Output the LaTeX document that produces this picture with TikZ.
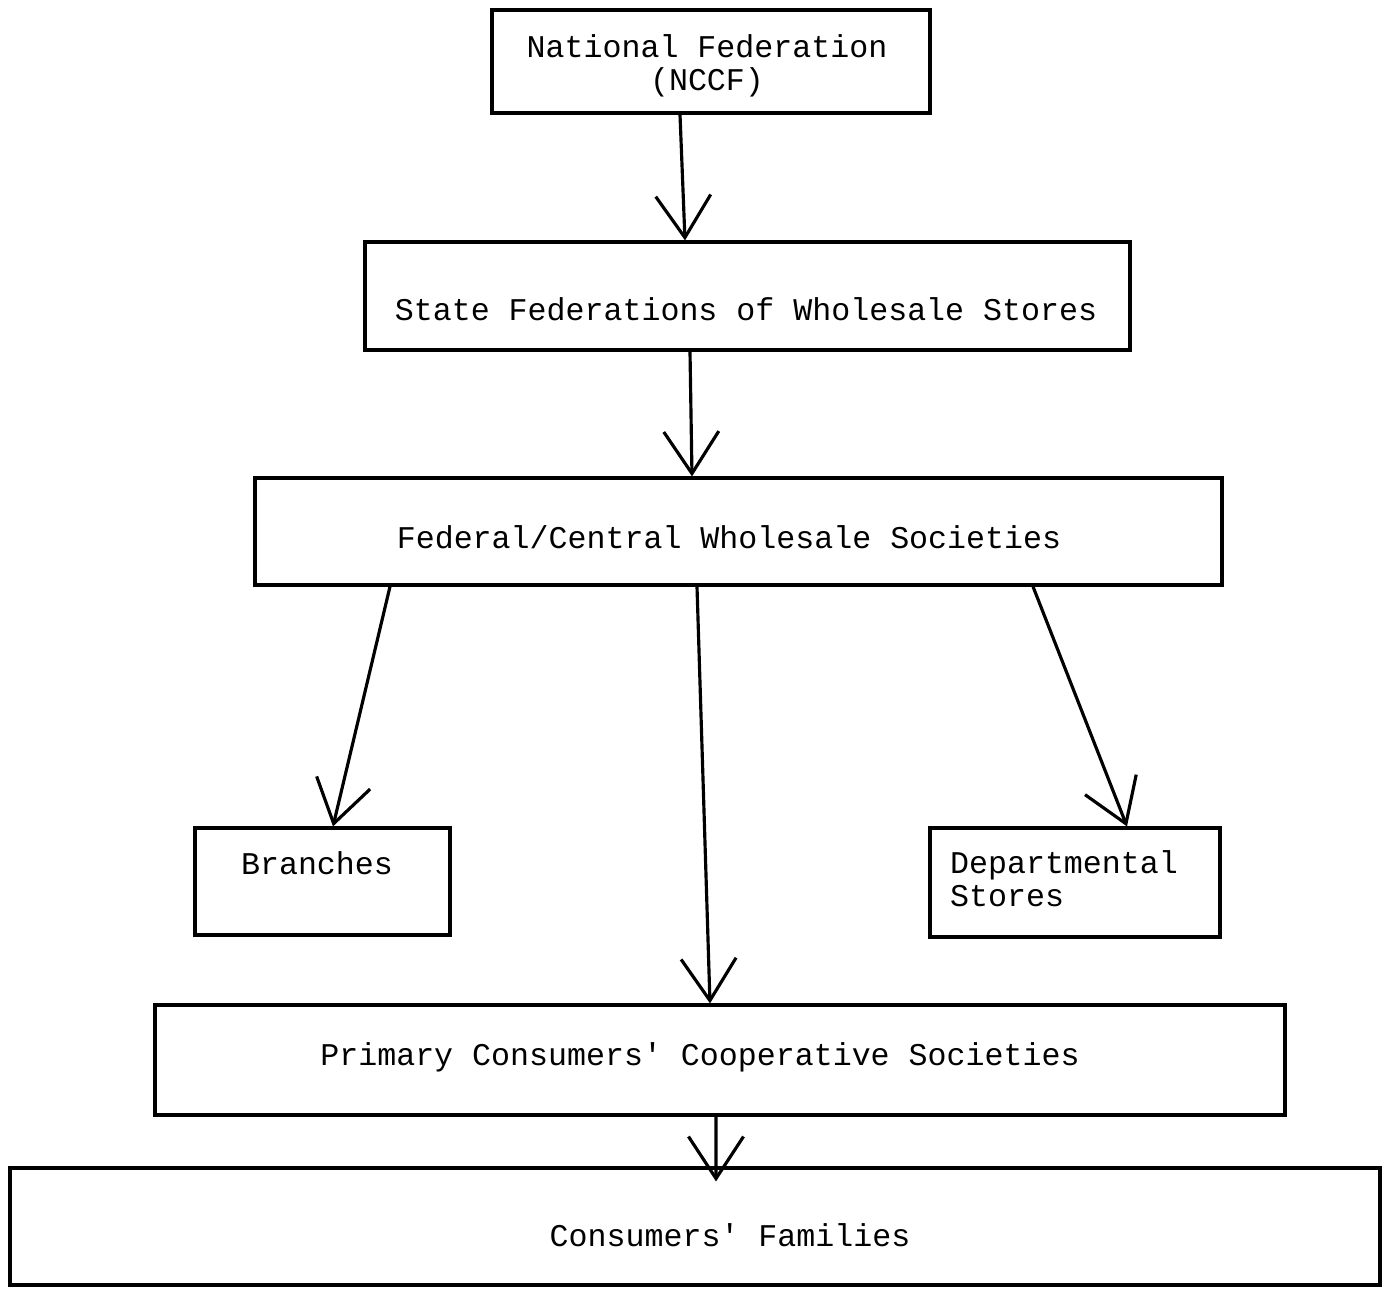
\documentclass[tikz,border=0pt]{standalone}
\usepackage{fontspec}
\setmonofont{Liberation Mono}
\usetikzlibrary{arrows.meta,positioning,calc}

\begin{document}
\begin{tikzpicture}[font=\ttfamily\fontsize{9}{9.4}\selectfont, every node/.style={align=center},
    box/.style={draw,line width=0.9pt,inner sep=0pt},
    arr/.style={-{Straight Barb[length=4.2mm,width=5.5mm]},line width=0.9pt}]
  \useasboundingbox (0,0) rectangle (13.85,-12.9);

  \node[box,minimum width=4.38cm,minimum height=1.03cm] (nccf) at (7.11,-0.615) {};
  \node (nccftext) at (7.07,-0.66) {National Federation\\(NCCF)};
  \node[box,minimum width=7.65cm,minimum height=1.08cm] (state) at (7.475,-2.96) {};
  \node (statetext) at (7.46,-3.09) {State Federations of Wholesale Stores};
  \node[box,minimum width=9.67cm,minimum height=1.07cm] (federal) at (7.385,-5.315) {};
  \node (federaltext) at (7.29,-5.37) {Federal/Central Wholesale Societies};

  \node[box,minimum width=2.55cm,minimum height=1.07cm] (branches) at (3.225,-8.815) {};
  \node (branchestext) at (3.17,-8.63) {Branches};
  \node[box,minimum width=2.9cm,minimum height=1.09cm] (dept) at (10.75,-8.825) {};
  \node[align=left] (depttext) at (10.64,-8.79) {Departmental\\Stores};

  \node[box,minimum width=11.3cm,minimum height=1.1cm] (primary) at (7.2,-10.6) {};
  \node (primarytext) at (7.0,-10.57) {Primary Consumers' Cooperative Societies};
  \node[box,minimum width=13.7cm,minimum height=1.17cm] (consumers) at (6.95,-12.265) {};
  \node (consumerstext) at (7.3,-12.35) {Consumers' Families};

  \draw[arr] ([xshift=-0.31cm]nccf.south) -- ([xshift=-0.625cm]state.north);
  \draw[arr] ([xshift=-0.575cm]state.south) -- ([xshift=-0.465cm]federal.north);
  \draw[arr] ([xshift=-3.485cm]federal.south) -- ([xshift=0.105cm]branches.north);
  \draw[arr] ([xshift=-0.415cm]federal.south) -- ([xshift=-0.1cm]primary.north);
  \draw[arr] ([xshift=2.945cm]federal.south) -- ([xshift=0.52cm]dept.north);
  \draw[arr] ([xshift=-0.04cm]primary.south) -- ([xshift=0.21cm,yshift=-0.15cm]consumers.north);
\end{tikzpicture}
\end{document}
